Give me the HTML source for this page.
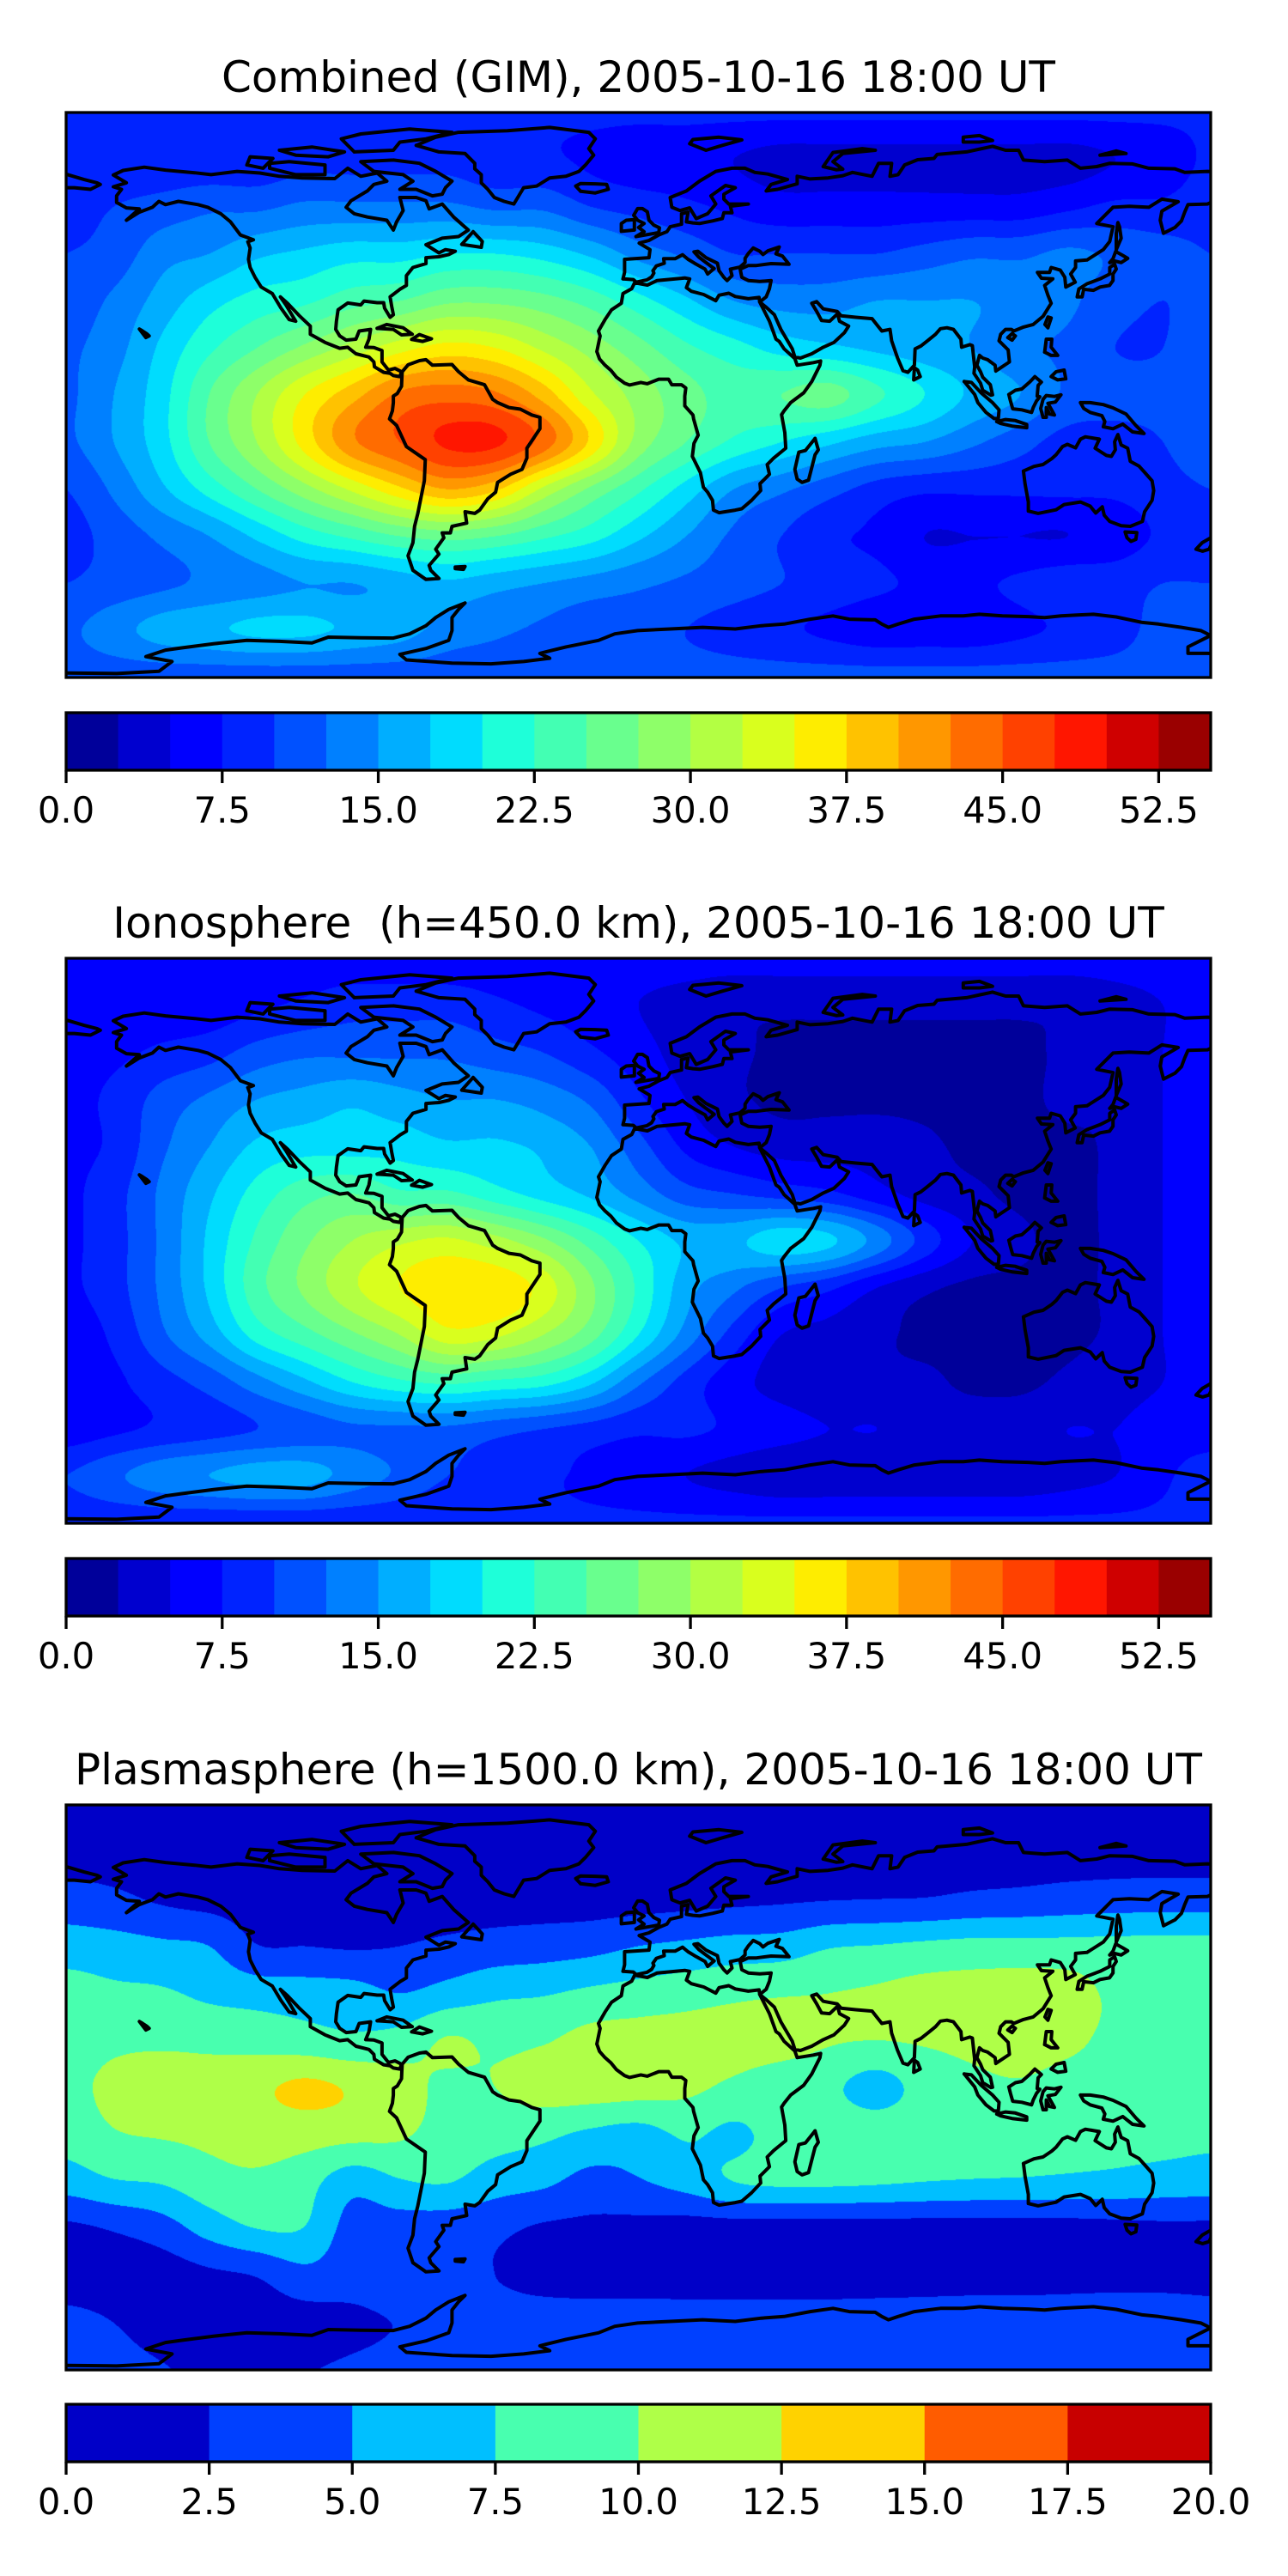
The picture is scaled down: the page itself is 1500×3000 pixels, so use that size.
<!DOCTYPE html>
<html><head><meta charset="utf-8">
<style>
html,body{margin:0;padding:0;background:#fff;}
#page{position:relative;width:1500px;height:3000px;overflow:hidden;background:#fff;}
canvas{position:absolute;left:77px;}
svg{position:absolute;left:0;top:0;}
text{font-family:"DejaVu Sans","Liberation Sans",sans-serif;fill:#000;}
</style></head>
<body>
<div id="page">
<canvas id="c0" width="1333" height="658" style="top:131px"></canvas>
<canvas id="c1" width="1333" height="658" style="top:1116px"></canvas>
<canvas id="c2" width="1333" height="658" style="top:2102px"></canvas>
<svg id="ov" width="1500" height="3000" viewBox="0 0 1500 3000">
<text x="743.5" y="107" font-size="50" text-anchor="middle">Combined (GIM), 2005-10-16 18:00 UT</text>
<text x="743.5" y="1092" font-size="50" text-anchor="middle" xml:space="preserve" style="white-space:pre">Ionosphere  (h=450.0 km), 2005-10-16 18:00 UT</text>
<text x="743.5" y="2078" font-size="50" text-anchor="middle">Plasmasphere (h=1500.0 km), 2005-10-16 18:00 UT</text>
</svg>
</div>
<script>
// Grids: rows lat 90..-90 step 15, cols lon -180..180 step 15 (grid over the map frame)
const gimValues = [
[8,8,8,8,8,8,8,8,8,8,8,8,8,8,8,8,8,8,8,8,8,8,8,8,8],
[8,8,8,8,8,9,9,9,9,8,8,7,6,6,5,4,4,4,4,4,4,4,5,6,8],
[9,10,11,12,12,13,13,13,13,12,12,10,9,8,7,6,6,6,6,6,6,7,8,8,9],
[10,11,14,15,17,18,19,19,20,20,19,17,14,12,10,10,10,10,11,12,12,13,12,11,10],
[11,13,16,19,21,22,24,25,27,27,26,24,21,18,15,14,14,15,15,15,14,13,11,10,11],
[12,14,18,22,25,28,31,34,36,35,32,29,26,23,21,19,18,17,16,15,13,12,10,10,12],
[12,15,19,25,30,35,39,43,44,43,39,33,29,26,24,25,26,23,20,17,15,12,11,11,12],
[12,15,19,25,30,36,42,45,48,48,44,37,29,25,22,20,18,16,15,13,11,9,9,10,12],
[10,13,17,21,25,29,33,37,40,38,32,27,23,19,15,13,11,9,8,8,8,8,8,9,10],
[9,11,13,15,18,21,23,25,26,25,23,21,18,15,12,10,8,7,5,5,5,5,6,8,9],
[10,11,12,13,14,15,15,16,17,16,15,14,13,12,11,10,9,8,7,7,8,9,9,10,10],
[12,14,16,17,18,18,17,16,14,13,12,11,11,10,9,8,7,6,6,6,7,8,9,11,12],
[11,11,11,11,11,11,11,11,11,11,11,11,11,11,11,11,11,11,11,11,11,11,11,11,11]
];
const ionoValues = [
[6,6,6,6,6,6,6,6,6,6,6,6,6,6,6,6,6,6,6,6,6,6,6,6,6],
[6,6,6,6,7,8,9,9,9,8,7,6,5,4,3,3,3,3,3,3,3,3,4,5,6],
[7,7,8,9,11,12,12,12,12,11,10,8,6,4,3,2,2,2,2,2,2,3,4,5,7],
[7,8,11,13,15,16,17,16,15,15,14,12,8,5,3,2,2,2,2,2,2,3,3,5,7],
[7,8,12,15,18,19,19,19,18,18,17,15,11,7,5,4,4,4,3,2,2,2,3,5,7],
[7,9,13,17,21,24,25,23,23,21,19,17,14,11,10,9,8,6,4,3,2,2,3,5,7],
[7,9,13,18,23,27,30,32,33,31,28,24,20,17,17,19,18,14,9,5,3,2,3,5,7],
[7,9,13,18,24,28,32,35,37,37,34,28,22,16,13,10,8,5,3,2,2,2,3,5,7],
[6,8,12,16,21,24,27,30,34,33,30,26,20,14,9,5,4,3,2,2,2,2,3,5,6],
[6,7,9,11,14,17,20,22,23,22,21,18,13,9,6,4,3,3,3,2,2,3,4,5,6],
[6,7,8,9,10,11,12,12,12,11,10,9,8,8,7,6,5,5,4,4,4,5,5,6,6],
[10,12,14,15,16,16,14,12,10,9,8,7,6,5,4,3,3,3,3,3,3,4,5,7,9],
[8,8,8,8,8,8,8,8,8,8,8,8,8,8,8,8,8,8,8,8,8,8,8,8,8]
];
const plasmaValues = [
[1,1,1,1,1,1,1,1,1,1,1,1,1,1,1,1,1,1,1,1,1,1,1,1,1],
[1.5,1.5,1.5,1.5,1.5,1.5,1.5,1.5,1.5,1.5,1.5,1.5,1.5,1.5,1.5,1.5,1.5,1.5,1.5,1.5,1.5,1.5,1.5,1.5,1.5],
[3.5,3,2.2,1.7,1.5,1.5,1.5,1.5,1.5,1.5,1.5,1.5,1.6,1.8,2,2.2,2.4,2.5,2.6,3,3.2,3.5,3.7,3.8,3.8],
[6.3,6,5.5,5,2.6,2.5,2.3,2.5,3,3.5,3.8,4.2,5,5.5,6,6.2,7.3,7.6,8,8.3,8.3,8.3,8.3,8.3,8.3],
[8.5,8,7.8,7,6.5,6.3,6,5,6,7,7.3,8,8.5,9,9.5,9.8,10,10.3,10.8,11,11.2,11,9.5,9,8.5],
[9,9.5,9.5,9.3,9,8.5,8,8.5,10.2,9.5,9.8,10.8,11,11,11,11,10.2,10,10.2,10.5,10.7,10.4,9.5,9,9],
[9.5,10.5,11.5,11.3,12,13,12.2,11,9.5,10,11,11.2,11,10.5,9.5,8.5,8,6.5,8.5,9.5,9.8,9.3,9,9,9],
[8.5,9.8,10.2,10.5,11,11,10.7,10.3,9,8.5,8,7,6.5,7.8,7,8.5,9,9,9,9,8.7,8.5,8.3,8.2,8],
[6.2,7.3,7.7,9,9.5,8.5,6,7.3,7.6,6.2,5.5,4.2,4.8,6,7.5,8,8,7.8,7.5,7.3,7.2,7,6.8,6.5,6.3],
[2,2.7,3.8,6,7.5,7.4,4,3.8,3.5,3,2.2,2,1.8,1.5,1.5,1.5,1.5,1.5,1.5,1.5,1.5,1.6,1.8,2,2],
[1.3,1.3,1.3,2,2.6,4.2,3.5,3.8,3,2.5,1.8,1.6,1.6,1.5,1.5,1.5,1.5,1.6,1.7,1.8,1.8,1.9,2,2,2],
[3.2,2.5,1.8,1.5,1.5,1.5,2,2.6,3,3.3,3.5,3.5,3.5,3.5,3.5,3.5,3.5,3.5,3.5,3.5,3.5,3.5,3.5,3.5,3.2],
[3.2,3,2.6,2.2,2.2,2.4,2.8,3.2,3.5,3.5,3.5,3.5,3.5,3.5,3.5,3.5,3.5,3.5,3.5,3.5,3.5,3.5,3.5,3.5,3.2]
];
const gimTicks = ["0.0","7.5","15.0","22.5","30.0","37.5","45.0","52.5"];
const plasmaTicks = ["0.0","2.5","5.0","7.5","10.0","12.5","15.0","17.5","20.0"];

const MX0 = 77, MW = 1333, MH = 658;
const tops = [131, 1116, 2102];
const cbTops = [830, 1815, 2800];
const panels = [
  {vals: gimValues, nLev: 22, step: 2.5, ticks: gimTicks, tickStep: 7.5, name: 'gim'},
  {vals: ionoValues, nLev: 22, step: 2.5, ticks: gimTicks, tickStep: 7.5, name: 'ionosphere'},
  {vals: plasmaValues, nLev: 8, step: 2.5, ticks: plasmaTicks, tickStep: 2.5, name: 'plasmasphere'}
];

function seg(pts, x){
  for (let i=1;i<pts.length;i++){
    if (x <= pts[i][0]){
      const a=pts[i-1], b=pts[i];
      return a[1] + (b[1]-a[1])*(x-a[0])/(b[0]-a[0]);
    }
  }
  return pts[pts.length-1][1];
}
const RED=[[0,0],[0.35,0],[0.66,1],[0.89,1],[1,0.5]];
const GRN=[[0,0],[0.125,0],[0.375,1],[0.64,1],[0.91,0],[1,0]];
const BLU=[[0,0.5],[0.11,1],[0.34,1],[0.65,0],[1,0]];
function jet(t){ return [Math.round(255*seg(RED,t)), Math.round(255*seg(GRN,t)), Math.round(255*seg(BLU,t))]; }
function cr(p0,p1,p2,p3,t){
  return 0.5*((2*p1)+(-p0+p2)*t+(2*p0-5*p1+4*p2-p3)*t*t+(-p0+3*p1-3*p2+p3)*t*t*t);
}
// map extent for coastlines
const LON0 = -180.5, LON1 = 171, LAT0 = 88.1, LAT1 = -85.4;
function xOf(lon){ return MX0 + (lon-LON0)/(LON1-LON0)*MW; }
function yOf(lat, top){ return top + (LAT0-lat)/(LAT0-LAT1)*MH; }

panels.forEach((p, pi) => {
  const cv = document.getElementById('c'+pi);
  const ctx = cv.getContext('2d');
  const img = ctx.createImageData(MW, MH);
  const colors = [];
  for (let k=0;k<p.nLev;k++) colors.push(jet((k+0.5)/p.nLev));
  const R = p.vals.length, C = p.vals[0].length;
  const g = (r,c) => p.vals[Math.max(0,Math.min(R-1,r))][Math.max(0,Math.min(C-1,c))];
  const row = new Float64Array(C);
  for (let py=0; py<MH; py++){
    const lat = 90 - (py+0.5)/MH*180;
    const fy = (90-lat)/15; const r = Math.floor(fy); const ty = fy - r;
    for (let c=0;c<C;c++) row[c] = cr(g(r-1,c),g(r,c),g(r+1,c),g(r+2,c),ty);
    const rv = c => row[Math.max(0,Math.min(C-1,c))];
    for (let px=0; px<MW; px++){
      const lon = -180 + (px+0.5)/MW*360;
      const fx = (lon+180)/15; const c = Math.floor(fx); const tx = fx - c;
      const v = cr(rv(c-1),rv(c),rv(c+1),rv(c+2),tx);
      let k = Math.floor(v/p.step); if (k<0) k=0; if (k>p.nLev-1) k=p.nLev-1;
      const col = colors[k]; const o = (py*MW+px)*4;
      img.data[o]=col[0]; img.data[o+1]=col[1]; img.data[o+2]=col[2]; img.data[o+3]=255;
    }
  }
  ctx.putImageData(img,0,0);
});

const coasts = {
"north-america":[[-166,68.9],[-163,70.3],[-156.5,71.3],[-150,70.4],[-141,69.6],[-136,69],[-128,70],[-121,69.5],[-115,68.5],[-108,68],[-98,67.8],[-94,71],[-90,68.5],[-85,69.5],[-82,67],[-86,66],[-88,64],[-93,61],[-94.5,59],[-92,57],[-88,56],[-82,55],[-80,52],[-79,54.5],[-77,58],[-78,62],[-73,62],[-70,61],[-69,58.5],[-65,60],[-61.5,56],[-57,52],[-60,50],[-65,49.5],[-70,47.5],[-66,45],[-64,46],[-61,45.5],[-63,44.5],[-66,43.8],[-70,43.5],[-70,41.7],[-74,40.5],[-76,38],[-76,35],[-78,33.8],[-81,31.5],[-80.5,28.5],[-80,26],[-81,25.2],[-82.7,28],[-83,29.7],[-85,29.7],[-89,30.2],[-90,29],[-94,29.6],[-97,27.5],[-97.5,24],[-97.7,21.5],[-96.5,19.5],[-94.5,18.2],[-91.5,18.5],[-90.5,21],[-87,21.5],[-87.5,18.5],[-88.5,16],[-86,15.9],[-83.5,15],[-83.5,11.5],[-81.5,9],[-79.5,9.5],[-77.5,8.5],[-78,7],[-80,7.3],[-81,8],[-83,8.3],[-85.8,10],[-86,11.5],[-87.5,13],[-91.5,14],[-94,16],[-96.5,15.7],[-101,17.5],[-105.5,20],[-105.5,22.5],[-109,25.8],[-112.5,29.5],[-114.7,31.5],[-113,29],[-110,24],[-112,24.5],[-114.5,28],[-117.2,32.5],[-120.6,34.5],[-122.5,37.5],[-124,40.5],[-124.5,43],[-124,46.5],[-124.7,48.4],[-123,49],[-127,50.5],[-130,54.5],[-133,57],[-137,59],[-140,59.8],[-146,60.8],[-150,59.8],[-152,60.8],[-154,59],[-158,57.5],[-162,55],[-158,58.5],[-162,58.8],[-165,60.5],[-165,62.5],[-163.5,64.5],[-166,65.3],[-162,66.5],[-166,68.9]],
"greenland":[[-73,78],[-67,80.5],[-60,82],[-45,82.5],[-32,83.5],[-20,82],[-18,80],[-20,77],[-18.5,75],[-21,72],[-23,70],[-27,68.5],[-32,68],[-36,65.5],[-40,65],[-43,60],[-46,60.8],[-49,62],[-51,64.5],[-53,66.5],[-53,69],[-55,70.8],[-55,72.5],[-58,75.5],[-66,76],[-73,78]],
"baffin":[[-80,73.5],[-72,72.5],[-67,70],[-62,67],[-64,65],[-65,63],[-68,62.5],[-73,64.5],[-78,64.5],[-74,67],[-77,69],[-86,70],[-90,73],[-80,73.5]],
"ellesmere":[[-92,76],[-80,76.5],[-78,79],[-70,80],[-62,82],[-75,83],[-90,81.5],[-96,80],[-92,76]],
"victoria-island":[[-118,71],[-110,69],[-101,69],[-101,72],[-112,73],[-118,72.5],[-118,71]],
"banks-island":[[-125,72],[-120,71],[-117,74],[-124,74.5],[-125,72]],
"arctic-islands":[[-110,75],[-100,74.5],[-95,76],[-105,77.5],[-115,76.5],[-110,75]],
"newfoundland":[[-59,47.6],[-53,46.7],[-52.7,48.5],[-55.5,51.5],[-59,47.6]],
"cuba":[[-85,21.8],[-82,23],[-77,22],[-74.2,20],[-77.5,19.8],[-80,21.5],[-85,21.8]],
"hispaniola":[[-74.4,18.4],[-72,19.9],[-68.3,18.6],[-71,17.8],[-74.4,18.4]],
"hawaii":[[-156,19],[-155,19.5],[-155.8,20.2],[-157,21],[-158,21.6],[-156,19]],
"south-america":[[-77.3,8.5],[-75.5,10.6],[-72,11.9],[-70,12.2],[-68,10.5],[-62,10.7],[-60,8.5],[-57,6],[-52,4.5],[-50.5,1.8],[-49.5,0],[-48,-1],[-44.5,-2.5],[-41,-3],[-37.5,-4.8],[-35,-5.5],[-35,-9],[-37,-12],[-39,-15],[-39,-18],[-40.5,-21.5],[-44,-23],[-48,-25.5],[-48.6,-28.5],[-51,-30.5],[-53.5,-34],[-55,-35],[-58,-34.5],[-57.5,-38],[-62,-39],[-62.5,-41],[-65,-41],[-64.5,-42.5],[-67,-46],[-66,-47.5],[-69,-51],[-68.5,-52.5],[-66,-55],[-70,-55.3],[-74,-52.5],[-75.5,-48],[-74,-44],[-73.5,-39],[-72.5,-35],[-71.5,-30],[-70.5,-25],[-70.2,-18.5],[-76,-14.5],[-79,-8],[-81.2,-6],[-80.3,-3.5],[-80,-1],[-80,1],[-78.8,1.8],[-77.5,4],[-77.4,6.5],[-77.3,8.5]],
"falklands":[[-61,-51.5],[-58,-51.3],[-58.5,-52.2],[-61,-52],[-61,-51.5]],
"eurasia":[[-9.5,37],[-9,39],[-9,43],[-1.5,43.5],[-1.2,46],[-4.5,48],[-1.5,48.8],[1.5,50.5],[4,51.5],[5,53],[8.5,53.8],[8.5,57],[10.5,57.5],[10,54.5],[12,54.2],[14,54],[18,54.8],[21,55.5],[21.5,57.3],[24,57.3],[23.5,59.3],[29,60],[23,60],[21.5,61.5],[21.5,63],[25,65],[22,65.7],[17.5,62.5],[19,60],[16.5,57],[13,55.5],[11,58.8],[8,58],[5.5,59],[5,62],[10,64],[14,67],[19,70],[24,71],[28,71],[31,69.7],[35,69.2],[41,67.5],[36,66],[34.5,64],[38,64.5],[44,66.2],[44,68.5],[48,67.7],[53.5,68],[58,68.7],[61,69.7],[67,68.5],[69,72.5],[73,72.5],[72.5,68.5],[75,69],[77,72],[81,73.6],[86,74],[87,75.2],[96,76],[104,77.7],[108,76.5],[112,76.5],[113.5,73.5],[120,73],[127,73.5],[131,71],[136,71.5],[140,72.5],[147,72.3],[152,71],[160,70.8],[163,69.7],[170,70],[176,69.7],[180,69],[180,65],[178,64.5],[179,62.5],[174,61.7],[170,60],[164,59.8],[163,57.5],[162,54.8],[160,52.8],[156.5,51],[155.5,55],[156,57.8],[161,60.7],[156,61.5],[152,59],[146,59.3],[141,59],[136,54],[141,53],[140,48.5],[138,46],[133,42.8],[129.5,42.5],[129.5,40.5],[128,38.5],[129.4,36],[126.5,34.5],[126.2,37.5],[124.8,39.7],[122,40.5],[121.5,39],[117.8,39],[119,37.2],[122.5,37],[120,35],[121,32],[122,29.5],[119.5,25.5],[116.5,23],[113.5,22.2],[110.5,21],[109.8,21.5],[108,21.5],[106.5,20],[106,18],[108.8,15.2],[109.2,11.5],[105,8.7],[104.8,10.5],[102.5,12.2],[101,12.7],[100,13.5],[99.2,10.5],[100.3,8.5],[101,6.8],[103.3,4.5],[104,1.4],[103.5,1.3],[101,2.8],[100.3,5],[98.3,8],[98.5,10],[97.8,16.5],[97,16.8],[94.5,16],[94.3,18.5],[92,21.5],[90,22],[88,21.7],[86.5,20],[84,18],[82,16.4],[80.2,15.5],[80,10.5],[78,8.3],[76.5,8.8],[74.8,12.8],[73,18],[72.5,21.5],[70,21],[68.8,22.5],[67,24.8],[62,25.2],[57.5,25.7],[56.3,27],[52,27.8],[50,30],[48.5,29.5],[50,27],[51.5,24.2],[54,24],[56.4,26.3],[57,24],[59.8,22.5],[58.5,20.5],[55.3,17.5],[52,16],[48.5,14],[45,12.7],[43.3,13],[42.5,15.5],[39,21.5],[37,26],[34.6,28.2],[32.5,29.9],[34.5,31.5],[35.5,34],[36,36.5],[32.5,36.2],[29,36.5],[27,37.5],[26.5,40],[29,41.1],[31.5,41.1],[36,41.7],[41.5,41.5],[39.5,44],[37.5,44.7],[38.5,46.8],[35,45.6],[33.5,44.5],[32.5,45.5],[30.5,46.5],[29,44.8],[28,43.3],[28,42],[26.4,40.6],[23.5,40],[24,38],[22.5,36.5],[21.5,37.5],[20,39.5],[19.5,41.8],[16,43.5],[13.5,45.5],[12.3,45.3],[13.8,43.7],[16,42],[18.5,40.2],[16.5,38.5],[15.7,40],[12.5,41.8],[10.5,43],[8.8,44.4],[6.5,43.2],[3,43.2],[3.2,41.8],[0.8,41],[-0.3,39.5],[0,38.8],[-0.7,37.6],[-2.1,36.7],[-5.4,36],[-6.3,36.8],[-9.5,37]],
"chukotka-west":[[-180,69],[-175,67.5],[-171,66.5],[-170,66],[-173,64.5],[-178,65],[-180,65]],
"africa":[[-17.5,14.7],[-16.5,19.5],[-17,21],[-15,24.5],[-13,27.5],[-10,29.5],[-9.5,32.5],[-6.8,34],[-5.9,35.8],[-2,35.1],[1,36.5],[9.5,37.3],[11,37],[10,34.3],[11.5,33.2],[15.3,32.2],[19,30.3],[20,32],[23,32.6],[25,31.6],[29,30.9],[32.3,31.3],[32.5,29.9],[35.5,24],[37.5,18.5],[38.5,17.8],[40,15.5],[43.3,12.5],[44,10.5],[49,11.3],[51.2,11.8],[51,10.5],[48.5,5.5],[46,2],[42,-1],[40,-3.5],[39.2,-4.7],[40.2,-10.2],[40.5,-15],[36.8,-18],[34.8,-20],[35.5,-23],[32.6,-25.9],[32.8,-28],[30,-31],[27,-33.6],[25,-34],[20,-34.8],[18.3,-34],[18,-31],[16.5,-28.5],[15.2,-27],[14.3,-22.5],[11.8,-17.5],[12.3,-13.5],[13.6,-11],[12.2,-6],[12,-4.8],[9.5,-2],[9.5,1],[9.8,3.5],[8.5,4.5],[5.5,4.5],[4.5,6.2],[1.5,6.2],[-2,4.8],[-4,5.2],[-7.5,4.4],[-9,5],[-11.5,6.8],[-13.2,8.9],[-15,10.5],[-16.7,12.4],[-17.5,14.7]],
"madagascar":[[49.5,-12],[50.5,-15.5],[49.5,-17],[47.5,-24.8],[45.5,-25.5],[44,-24.5],[43.3,-21.5],[44.5,-16.2],[46.5,-15.7],[49.5,-12]],
"great-britain":[[-5.5,50],[1.5,51.2],[1.7,52.7],[0,53.5],[-1.5,55],[-2,57.6],[-3.5,58.6],[-5,58.6],[-6.2,56.5],[-5,55],[-3,54],[-4.7,52.8],[-3,51.5],[-5.5,50]],
"ireland":[[-10,51.6],[-6,52],[-6,53.9],[-6,55.2],[-8.5,55],[-10,54],[-10,51.6]],
"iceland":[[-22.5,63.9],[-18,63.4],[-14,64.5],[-14.5,66],[-18,66.2],[-22.5,66.3],[-24,65.5],[-22.5,63.9]],
"svalbard":[[11,78.5],[16,76.5],[21,78],[27,79.7],[20,80.5],[12,79.8],[11,78.5]],
"novaya-zemlya":[[52,71.5],[56,70.5],[58,70.7],[55,73],[58,75.5],[68,76.5],[64,77],[55,75.8],[52,71.5]],
"severnaya-zemlya":[[95,79],[100,79],[104,79.5],[100,81],[95,80.5],[95,79]],
"new-siberian":[[137,75],[145,75.5],[142,76.3],[137,75]],
"sri-lanka":[[79.8,6],[81.8,7],[81,9],[80,9.7],[79.8,6]],
"honshu":[[130,31.5],[131.5,31.5],[132,33.8],[135,33.5],[137,34.5],[139.9,35],[141,36.5],[141,38.5],[142,40],[141.5,41.5],[140,40.5],[140,38.5],[137,37],[133,35.5],[130.5,33.9],[130,31.5]],
"hokkaido":[[140,42],[141.5,42.5],[143.5,42],[145.5,43.3],[144,44.2],[141.8,45.4],[141,43.2],[140,42]],
"sakhalin":[[142,46],[143.5,49.5],[143,53],[142.5,54.3],[142,51],[142,46]],
"taiwan":[[120.1,23],[121,22],[122,25],[121,25.3],[120.1,23]],
"hainan":[[108.7,19],[110,18.2],[111,19.5],[110,20.2],[108.7,19]],
"luzon":[[120,14.5],[120.5,18.5],[122.2,18.5],[122,16],[124,13.5],[122,13.5],[120,14.5]],
"mindanao":[[122,7],[124,6],[126.5,6.3],[126,9],[123.5,8.5],[122,7]],
"borneo":[[109,1.5],[111,2.8],[113,3.2],[115.5,5.4],[117,7],[119,5.3],[118,4.3],[117.7,1],[118.5,0.8],[117.5,-0.5],[116.5,-2.5],[116,-4],[113,-3.2],[110.2,-2.9],[109.5,-0.5],[109,1.5]],
"sumatra":[[95.3,5.5],[97.5,5.2],[100.5,2],[104,-1],[106,-3.2],[105.8,-5.8],[104.5,-5.9],[102,-4],[99.5,-1],[98.5,1.5],[95.3,5.5]],
"java":[[105.3,-6.8],[108,-6.2],[111,-6.5],[114.5,-7.7],[114.5,-8.7],[110,-8.2],[106.5,-7.4],[105.3,-6.8]],
"sulawesi":[[119.5,-5.5],[120.5,-5.5],[120.5,-2.5],[121.5,-4.5],[123,-4.8],[122,-3],[121,-1.2],[123.3,-0.8],[125,1.4],[123,0.9],[120.5,1.2],[119.5,0],[118.8,-2.8],[119.5,-5.5]],
"new-guinea":[[131,-1],[134,-1],[138,-1.6],[141,-2.6],[145,-4.5],[148,-8],[150.5,-10.5],[147,-10],[144,-7.6],[141,-9],[138,-8.4],[138.5,-6.8],[137.6,-5],[134,-4],[132,-2.8],[131,-1]],
"australia":[[113.5,-22],[114,-26],[115,-31.5],[115,-34.3],[118,-35],[123.5,-33.9],[126,-32.3],[131,-31.5],[134,-32.8],[135.7,-34.9],[137.7,-33],[138.3,-35.6],[140,-37.5],[143.5,-38.8],[146.3,-39],[150,-37.5],[150.7,-34.5],[153,-31],[153.5,-28],[153,-25],[150.8,-22.5],[149,-20.5],[146.3,-19],[145.5,-15],[143.5,-14],[142.5,-10.8],[141.5,-13],[141.7,-15.5],[140.5,-17.5],[139,-17.2],[135.5,-15],[136.8,-12.2],[135.5,-12],[132.5,-11.5],[131,-12.2],[129.5,-14.9],[127,-13.8],[125.5,-14.5],[123.5,-17],[122.2,-18.2],[119.5,-20],[116.7,-20.6],[113.5,-22]],
"tasmania":[[144.7,-40.7],[148.3,-40.9],[148,-43],[146.5,-43.6],[145.3,-42.5],[144.7,-40.7]],
"nz-north":[[172.7,-34.5],[174.5,-36],[175.9,-37.5],[178.5,-37.7],[177,-39.3],[176,-41.3],[174.7,-41.3],[175.2,-40],[173.8,-39.2],[174.6,-37.8],[172.7,-34.5]],
"nz-south":[[172.7,-40.5],[174.2,-41.7],[172.8,-43.6],[171.2,-44.5],[170.5,-46],[168.5,-46.6],[166.5,-46],[168.4,-44],[171,-42.5],[172.7,-40.5]],
"antarctica":[[-181,-84],[-165,-84.2],[-152,-83.5],[-148,-80.5],[-156,-79],[-150,-77],[-145,-76.3],[-135,-75],[-125,-74],[-115,-74.3],[-105,-74.8],[-100,-73],[-90,-73.2],[-80,-73.3],[-75,-72],[-70,-69.5],[-67,-67],[-63,-64.5],[-58,-62.5],[-60,-64.5],[-62,-67],[-62,-71],[-63,-74],[-70,-76.5],[-78,-78.3],[-76,-80],[-62,-81],[-50,-81.2],[-40,-80.5],[-32,-79.5],[-35,-78],[-27,-76],[-17,-74],[-12,-72],[-5,-71],[5,-70.5],[15,-70],[25,-70.5],[33,-69.5],[40,-69],[48,-67.5],[55,-66.5],[60,-67.5],[68,-67.7],[70,-69],[72,-70],[75,-69],[80,-67.5],[88,-66.5],[95,-66.5],[100,-66],[107,-66.5],[115,-66.7],[120,-67],[125,-66.5],[130,-66.2],[135,-66],[142,-66.8],[150,-68.5],[155,-69],[162,-70],[168,-71],[171,-72.5],[168,-74],[164,-76],[164,-78],[170,-78],[180,-78.2]]
};

const NS = 'http://www.w3.org/2000/svg';
const svg = document.getElementById('ov');
const defs = document.createElementNS(NS,'defs');
svg.appendChild(defs);

panels.forEach((p, pi) => {
  const top = tops[pi];
  const clip = document.createElementNS(NS,'clipPath');
  clip.setAttribute('id','clip'+pi);
  const cr_ = document.createElementNS(NS,'rect');
  cr_.setAttribute('x',MX0); cr_.setAttribute('y',top); cr_.setAttribute('width',MW); cr_.setAttribute('height',MH);
  clip.appendChild(cr_); defs.appendChild(clip);

  const g = document.createElementNS(NS,'g');
  
  
  g.setAttribute('clip-path','url(#clip'+pi+')');
  Object.keys(coasts).forEach(key => {
    const pts = coasts[key];
    const d = pts.map((q,i)=>(i?'L':'M')+xOf(q[0]).toFixed(1)+','+yOf(q[1],top).toFixed(1)).join('');
    const path = document.createElementNS(NS,'path');
    
    
    path.setAttribute('d', d);
    path.setAttribute('fill','none'); path.setAttribute('stroke','#000');
    path.setAttribute('stroke-width','4'); path.setAttribute('stroke-linejoin','round'); path.setAttribute('stroke-linecap','round');
    g.appendChild(path);
  });
  svg.appendChild(g);

  const frame = document.createElementNS(NS,'rect');
  
  
  frame.setAttribute('x',MX0); frame.setAttribute('y',top); frame.setAttribute('width',MW); frame.setAttribute('height',MH);
  frame.setAttribute('fill','none'); frame.setAttribute('stroke','#000'); frame.setAttribute('stroke-width','3.3');
  svg.appendChild(frame);

  const cbTop = cbTops[pi], cbH = 67;
  const vmax = p.nLev * p.step;
  const xv = v => MX0 + v/vmax*MW;
  const cg = document.createElementNS(NS,'g');
  
  
  for (let k=0;k<p.nLev;k++){
    const c = jet((k+0.5)/p.nLev);
    const r = document.createElementNS(NS,'rect');
    
    
    const x0 = xv(k*p.step), x1 = xv((k+1)*p.step);
    r.setAttribute('x',x0); r.setAttribute('y',cbTop); r.setAttribute('width',(x1-x0+0.6)); r.setAttribute('height',cbH);
    r.setAttribute('fill','rgb('+c.join(',')+')');
    cg.appendChild(r);
  }
  const cf = document.createElementNS(NS,'rect');
  
  
  cf.setAttribute('x',MX0); cf.setAttribute('y',cbTop); cf.setAttribute('width',MW); cf.setAttribute('height',cbH);
  cf.setAttribute('fill','none'); cf.setAttribute('stroke','#000'); cf.setAttribute('stroke-width','3.3');
  cg.appendChild(cf);
  p.ticks.forEach((lab, i) => {
    const x = xv(i*p.tickStep);
    const tk = document.createElementNS(NS,'line');
    
    
    tk.setAttribute('x1',x); tk.setAttribute('x2',x); tk.setAttribute('y1',cbTop+cbH); tk.setAttribute('y2',cbTop+cbH+15);
    tk.setAttribute('stroke','#000'); tk.setAttribute('stroke-width','3.3');
    cg.appendChild(tk);
    const t = document.createElementNS(NS,'text');
    
    
    t.setAttribute('x',x); t.setAttribute('y',cbTop+128); t.setAttribute('font-size','41.7'); t.setAttribute('text-anchor','middle');
    t.textContent = lab;
    cg.appendChild(t);
  });
  svg.appendChild(cg);
});
</script>
</body></html>
